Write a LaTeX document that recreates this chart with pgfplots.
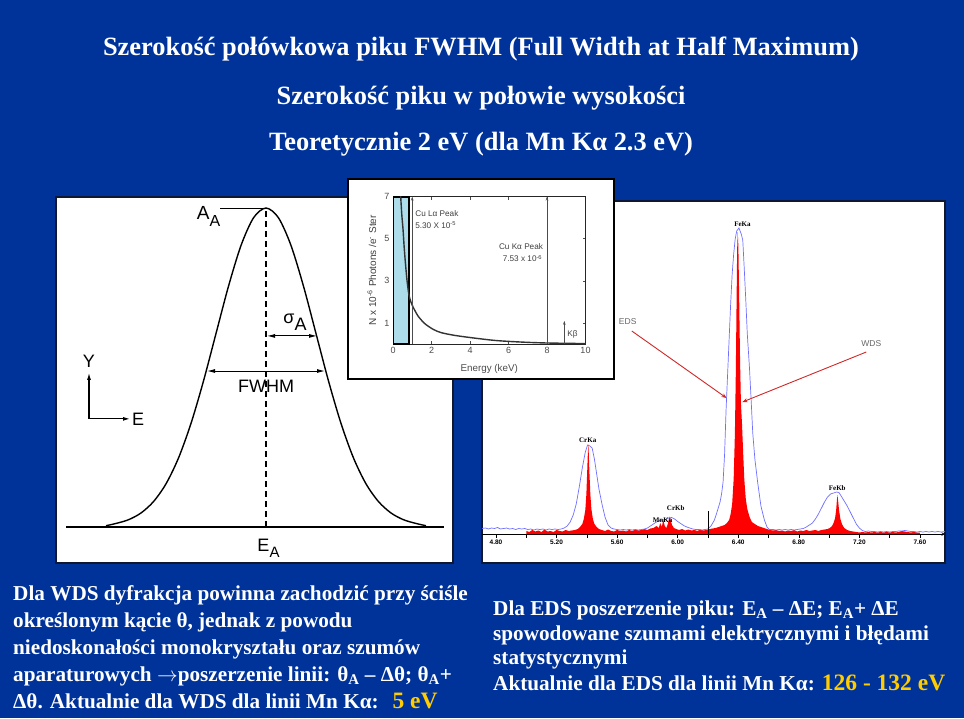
\documentclass[border=0pt]{standalone}
\usepackage{fontspec}
\setmainfont{Liberation Serif}
\setsansfont{Liberation Sans}
\usepackage{pgfplots}
\pgfplotsset{compat=1.18}
\usetikzlibrary{arrows.meta}

\definecolor{slide}{HTML}{00339A}
\definecolor{gold}{HTML}{FFCC00}
\definecolor{edsblue}{HTML}{7070FF}
\definecolor{cyanbox}{HTML}{ADDCEB}
\definecolor{arrowred}{HTML}{D02828}
\definecolor{frame}{HTML}{101830}

\newcommand{\titlefont}{\bfseries\fontsize{26.4}{30}\selectfont}
\newcommand{\bodyfont}{\bfseries\fontsize{21.2}{25}\selectfont}
\newcommand{\yelsize}{\fontsize{23.5}{25}\selectfont}
\newcommand{\sub}[1]{\textsubscript{#1}}

\begin{document}
\begin{tikzpicture}[x=1pt,y=-1pt]
\useasboundingbox (0,0) rectangle (964,718);
\fill[slide] (0,0) rectangle (964,718);

% titles
\node[anchor=base,text=white,font=\titlefont] at (481,55) {Szerokość połówkowa piku FWHM (Full Width at Half Maximum)};
\node[anchor=base,text=white,font=\titlefont] at (481,104) {Szerokość piku w połowie wysokości};
\node[anchor=base,text=white,font=\titlefont] at (481,150) {Teoretycznie 2 eV (dla Mn Kα 2.3 eV)};

% bottom text
\begin{scope}[every node/.style={anchor=base west,text=white,font=\bodyfont,inner sep=0pt}]
\node at (13,600) {Dla WDS dyfrakcja powinna zachodzić przy ściśle};
\node at (13,627) {określonym kącie θ, jednak z powodu};
\node at (13,654) {niedoskonałości monokryształu oraz szumów};
\node at (13,681) {aparaturowych $\rightarrow$poszerzenie linii: θ\sub{A} – Δθ; θ\sub{A}+};
\node at (13,708) {Δθ. Aktualnie dla WDS dla linii Mn Kα:\hspace{14pt}{\color{gold}\yelsize 5 eV}};
\node at (493,615) {Dla EDS poszerzenie piku: E\sub{A} – ΔE; E\sub{A}+ ΔE};
\node at (493,640) {spowodowane szumami elektrycznymi i błędami};
\node at (493,664) {statystycznymi};
\node at (493,690) {Aktualnie dla EDS dla linii Mn Kα: {\color{gold}\yelsize 126 - 132 eV}};
\end{scope}

% ---------- left panel: Gaussian peak ----------
\fill[white,draw=frame,line width=1.5pt] (56,197) rectangle (453,563);
\begin{axis}[at={(56pt,-563pt)},anchor=south west,scale only axis,
  width=397pt,height=366pt,xmin=-4.2,xmax=3.74,ymin=-0.1129,ymax=1.0345,
  hide axis,clip=false]
\addplot[black,line width=1.2pt] coordinates {(-4.0,0) (3.56,0)};
\addplot[black,line width=1.4pt,smooth] coordinates {
 (-3.2,0.004)(-3.0,0.0111)(-2.75,0.0228)(-2.5,0.0439)(-2.25,0.0796)(-2.0,0.1353)
 (-1.75,0.2163)(-1.5,0.3247)(-1.25,0.4578)(-1.0,0.6065)(-0.75,0.7548)(-0.5,0.8825)
 (-0.25,0.9692)(0,1)(0.25,0.9692)(0.5,0.8825)(0.75,0.7548)(1.0,0.6065)(1.25,0.4578)
 (1.5,0.3247)(1.75,0.2163)(2.0,0.1353)(2.25,0.0796)(2.5,0.0439)(2.75,0.0228)
 (3.0,0.0111)(3.2,0.004)};
\draw[line width=1.1pt,dash pattern=on 6pt off 4pt] (axis cs:0,0) -- (axis cs:0,1);
\draw[line width=0.6pt] (axis cs:-0.92,1) -- (axis cs:0,1);
\draw[{Latex[length=8pt,width=4pt]}-{Latex[length=8pt,width=4pt]},line width=0.9pt]
  (axis cs:-1.18,0.489) -- (axis cs:1.18,0.489);
\draw[{Latex[length=8pt,width=4pt]}-{Latex[length=8pt,width=4pt]},line width=0.9pt]
  (axis cs:0.02,0.599) -- (axis cs:1.02,0.599);
\node[font=\sffamily\fontsize{18}{18}\selectfont] at (axis cs:0,0.44) {FWHM};
\node[font=\sffamily\fontsize{18}{18}\selectfont,anchor=base] at (axis cs:0.58,0.630)
  {\raisebox{3pt}{σ}\raisebox{-4pt}{A}};
\node[font=\sffamily\fontsize{19}{19}\selectfont,anchor=base] at (axis cs:-1.15,0.965)
  {A\raisebox{-7pt}{\fontsize{16}{16}\selectfont A}};
\node[font=\sffamily\fontsize{18}{18}\selectfont,anchor=base] at (axis cs:0.05,-0.078)
  {E\raisebox{-6pt}{\fontsize{15}{15}\selectfont A}};
\draw[-{Latex[length=7pt,width=4pt]},line width=1.1pt] (axis cs:-3.54,0.339) -- (axis cs:-3.54,0.483);
\draw[-{Latex[length=7pt,width=4pt]},line width=1.1pt] (axis cs:-3.54,0.339) -- (axis cs:-2.72,0.339);
\node[font=\sffamily\fontsize{18}{18}\selectfont] at (axis cs:-3.54,0.52) {Y};
\node[font=\sffamily\fontsize{18}{18}\selectfont,anchor=west,inner sep=0pt] at (axis cs:-2.68,0.339) {E};
\end{axis}

% ---------- right panel: EDS vs WDS spectrum ----------
\fill[white,draw=frame,line width=1.5pt] (482,201) rectangle (945,563);
\begin{axis}[at={(482pt,-534pt)},anchor=south west,scale only axis,
  width=463pt,height=333pt,xmin=4.7075,xmax=7.766,ymin=0,ymax=333,
  axis x line=bottom,axis y line=none,axis line style={black,line width=0.6pt},
  xtick={4.8,5.2,5.6,6.0,6.4,6.8,7.2,7.6},
  xticklabels={4.80,5.20,5.60,6.00,6.40,6.80,7.20,7.60},
  minor xtick={5.0,5.4,5.8,6.2,6.6,7.0,7.4},
  tick align=outside,major tick length=3.5pt,minor tick length=3.5pt,
  tick style={black,line width=0.5pt},
  xticklabel style={font=\sffamily\bfseries\fontsize{6.5}{7}\selectfont,yshift=1pt},
  clip=false]
% WDS (red, filled)
\addplot[fill=red,draw=none] coordinates {
 (5.00,0)(5.00,3)(5.02,2)(5.04,4)(5.06,2.5)(5.08,3.5)(5.10,2)(5.12,4.5)(5.14,2.5)(5.16,3)
 (5.18,2)(5.20,4)(5.22,3)(5.24,2.5)(5.26,4)(5.28,3)(5.30,3.5)(5.32,4)(5.34,5)(5.355,7)
 (5.37,10)(5.38,15)(5.39,24)(5.397,40)(5.403,65)(5.407,82)(5.41,90)(5.413,80)(5.417,62)
 (5.423,40)(5.43,25)(5.44,15)(5.45,10)(5.465,7)(5.48,5)(5.50,4)(5.52,3)(5.54,4.5)(5.56,3)
 (5.58,2.5)(5.60,4)(5.62,3)(5.64,3.5)(5.66,2.5)(5.68,4)(5.70,3)(5.72,4.5)(5.74,3.5)(5.76,4)
 (5.78,5)(5.80,4)(5.82,5.5)(5.84,6)(5.86,8)(5.875,6)(5.885,11)(5.895,7)(5.905,14)(5.915,8)
 (5.925,6)(5.935,10)(5.942,15)(5.948,17.5)(5.955,13)(5.963,9)(5.975,6)(5.99,5)(6.01,4)
 (6.03,5)(6.05,3.5)(6.07,4.5)(6.09,3.5)(6.11,4)(6.13,3)(6.15,4.5)(6.17,3.5)(6.19,4)(6.21,5)
 (6.23,5.5)(6.25,6)(6.27,7)(6.29,8)(6.31,9)(6.325,11)(6.34,14)(6.35,20)(6.36,30)(6.37,55)
 (6.378,100)(6.384,160)(6.389,230)(6.393,285)(6.397,302)(6.401,288)(6.406,240)(6.412,175)
 (6.418,130)(6.425,110)(6.433,80)(6.44,55)(6.45,35)(6.46,25)(6.475,17)(6.49,12)(6.51,10)
 (6.53,8)(6.55,7)(6.57,6)(6.59,5)(6.61,4)(6.63,3.5)(6.65,4)(6.67,3)(6.69,3.5)(6.71,2.5)
 (6.73,3.5)(6.75,3)(6.77,4)(6.79,2.5)(6.81,3.5)(6.83,3)(6.85,4)(6.87,3)(6.89,3.5)(6.91,4)
 (6.93,3)(6.95,4)(6.97,4.5)(6.99,5)(7.005,6)(7.02,8)(7.03,11)(7.04,16)(7.047,24)(7.052,34)
 (7.056,39)(7.06,33)(7.066,24)(7.075,15)(7.085,10)(7.10,6)(7.12,4)(7.14,3)(7.16,2.5)
 (7.18,2)(7.20,1.5)(7.22,2)(7.24,1.5)(7.26,2)(7.28,1.5)(7.30,2)(7.32,1.5)(7.34,2)(7.36,1.5)
 (7.38,2)(7.40,1.5)(7.42,2)(7.44,1.5)(7.46,2)(7.48,3)(7.50,2.5)(7.52,2)(7.54,1.5)(7.56,2)
 (7.58,1.5)(7.60,1.5)(7.60,0)} \closedcycle;
% EDS (blue line)
\addplot[edsblue,line width=0.7pt] coordinates {
 (4.708,5.5)(4.73,6)(4.75,5)(4.77,6)(4.79,5.5)(4.81,6.5)(4.83,5)(4.85,5.5)(4.87,6)(4.89,5)
 (4.91,5.5)(4.93,4.5)(4.95,5.5)(4.97,5)(4.99,5.5)(5.01,4.5)(5.03,5)(5.05,4)(5.07,5)(5.09,4.5)
 (5.11,5)(5.13,4)(5.15,5)(5.17,4.5)(5.19,5)(5.21,4.5)(5.23,5)(5.25,6)(5.27,8)(5.29,12)
 (5.31,19)(5.33,30)(5.35,47)(5.37,66)(5.39,82)(5.405,89)(5.42,88)(5.435,86)(5.45,75)
 (5.465,60)(5.48,45)(5.50,30)(5.52,17)(5.54,9)(5.56,6)(5.58,5)(5.60,4.5)(5.62,4)(5.64,4.5)
 (5.66,4)(5.68,4.5)(5.70,4)(5.72,4.5)(5.74,4)(5.76,4.5)(5.78,5)(5.80,6)(5.82,8)(5.84,10)
 (5.86,12)(5.88,13.5)(5.90,14)(5.92,14.5)(5.94,16)(5.96,16.5)(5.98,15)(6.00,12.5)(6.02,10.5)
 (6.04,8.5)(6.06,7)(6.08,6)(6.10,5)(6.12,4.5)(6.14,4.5)(6.16,4)(6.18,4.5)(6.20,5)(6.22,8)
 (6.243,14)(6.26,22)(6.28,32)(6.29,40)(6.30,52)(6.31,80)(6.32,125)(6.33,160)(6.34,195)
 (6.35,230)(6.36,260)(6.37,280)(6.38,295)(6.39,303)(6.405,306)(6.42,300)(6.43,294)(6.44,265)
 (6.45,234)(6.46,200)(6.474,167)(6.485,135)(6.496,101)(6.51,75)(6.529,51)(6.55,28)(6.573,14)
 (6.59,7)(6.606,4.5)(6.63,4.5)(6.65,4)(6.67,4.5)(6.69,4)(6.71,4.5)(6.73,4)(6.75,4.5)(6.77,4)
 (6.79,4.5)(6.81,5)(6.83,5.5)(6.85,7)(6.87,9)(6.89,11)(6.91,15)(6.93,20)(6.95,26)(6.97,32)
 (6.99,37)(7.01,40)(7.03,41)(7.05,42)(7.065,41.5)(7.08,38)(7.10,33)(7.12,28)(7.14,22)
 (7.16,16)(7.18,10)(7.20,6)(7.22,3.5)(7.24,2.5)(7.26,3)(7.28,2.5)(7.30,2.5)(7.32,2)(7.34,2.5)
 (7.36,2)(7.38,2.5)(7.40,2)(7.42,2.5)(7.44,2.5)(7.46,3)(7.48,3)(7.50,3.5)(7.52,3)(7.54,2.5)
 (7.56,2.5)(7.58,2)(7.60,2.5)(7.62,2)(7.64,2.5)(7.66,2)(7.68,2.5)(7.70,2)(7.72,2.5)(7.74,2)
 (7.766,2.5)};
\draw[black,line width=0.7pt] (axis cs:6.2,0) -- (axis cs:6.2,23);
\begin{scope}[every node/.style={font=\bfseries\fontsize{7}{7}\selectfont,inner sep=0pt}]
\node at (axis cs:6.428,310) {FeKa};
\node at (axis cs:5.406,94) {CrKa};
\node at (axis cs:5.987,26) {CrKb};
\node at (axis cs:5.90,14) {MnKa};
\node at (axis cs:7.054,46) {FeKb};
\end{scope}
\node[font=\sffamily\fontsize{8.5}{9}\selectfont,text=black!60] at (axis cs:5.670,212) {EDS};
\node[font=\sffamily\fontsize{8.5}{9}\selectfont,text=black!60] at (axis cs:7.279,190) {WDS};
\draw[arrowred,line width=0.9pt,-{Stealth[length=5pt,width=4pt]}] (axis cs:5.697,203) -- (axis cs:6.323,136);
\draw[arrowred,line width=0.9pt,-{Stealth[length=5pt,width=4pt]}] (axis cs:7.246,182) -- (axis cs:6.428,132);
\end{axis}

% ---------- inset: continuum ----------
\fill[white,draw=black,line width=2pt] (348,179) rectangle (614,379);
\begin{axis}[at={(393pt,-344pt)},anchor=south west,scale only axis,
  width=192.5pt,height=147.5pt,xmin=0,xmax=10,ymin=0,ymax=7,
  xtick={0,2,4,6,8,10},xticklabels={0,2,4,6,8,10},
  ytick={1,3,5,7},yticklabels={1,3,5,7},
  axis line style={black!85,line width=0.9pt},
  tick style={black!70,line width=0.5pt},major tick length=3pt,
  ticklabel style={font=\sffamily\fontsize{9}{9}\selectfont,text=black!70},
  xlabel={Energy (keV)},
  ylabel={N x 10\textsuperscript{-6} Photons /e\textsuperscript{-} Ster},
  xlabel style={font=\sffamily\fontsize{9.8}{10}\selectfont,text=black!70,
    at={(axis description cs:0.5,-0.17)},anchor=center},
  ylabel style={font=\sffamily\fontsize{10}{10}\selectfont,text=black!75,
    at={(axis description cs:-0.11,0.5)},anchor=center}]
\draw[fill=cyanbox,line width=2.2pt] (axis cs:0,0) rectangle (axis cs:0.83,7);
\addplot[black!80,line width=1.4pt,smooth] coordinates {
 (0.37,7.6)(0.40,7.0)(0.46,6.1)(0.52,5.45)(0.58,4.6)(0.64,3.9)(0.73,3.0)(0.83,2.32)
 (0.93,2.0)(1.04,1.76)(1.3,1.33)(1.65,0.97)(2.08,0.70)(2.5,0.54)(3.2,0.41)(4.07,0.30)
 (5.29,0.17)(6.5,0.10)(7.9,0.05)(10,0.02)};
\draw[black!70,line width=0.5pt,-{Stealth[length=4pt,width=2.5pt]}] (axis cs:1,0) -- (axis cs:1,7);
\draw[black!70,line width=0.5pt,-{Stealth[length=4pt,width=2.5pt]}] (axis cs:8,0) -- (axis cs:8,7);
\draw[black!70,line width=0.5pt,-{Stealth[length=4pt,width=2.5pt]}] (axis cs:8.9,0) -- (axis cs:8.9,1.1);
\begin{scope}[every node/.style={font=\sffamily\fontsize{8.2}{8}\selectfont,text=black!75,inner sep=0pt}]
\node[anchor=west] at (axis cs:1.15,6.2) {Cu Lα Peak};
\node[anchor=west] at (axis cs:1.15,5.65) {5.30 X 10\textsuperscript{-5}};
\node[anchor=east] at (axis cs:7.8,4.62) {Cu Kα Peak};
\node[anchor=east] at (axis cs:7.76,4.06) {7.53 x 10\textsuperscript{-6}};
\node[anchor=west] at (axis cs:9.05,0.44) {Kβ};
\end{scope}
\end{axis}
\end{tikzpicture}
\end{document}
